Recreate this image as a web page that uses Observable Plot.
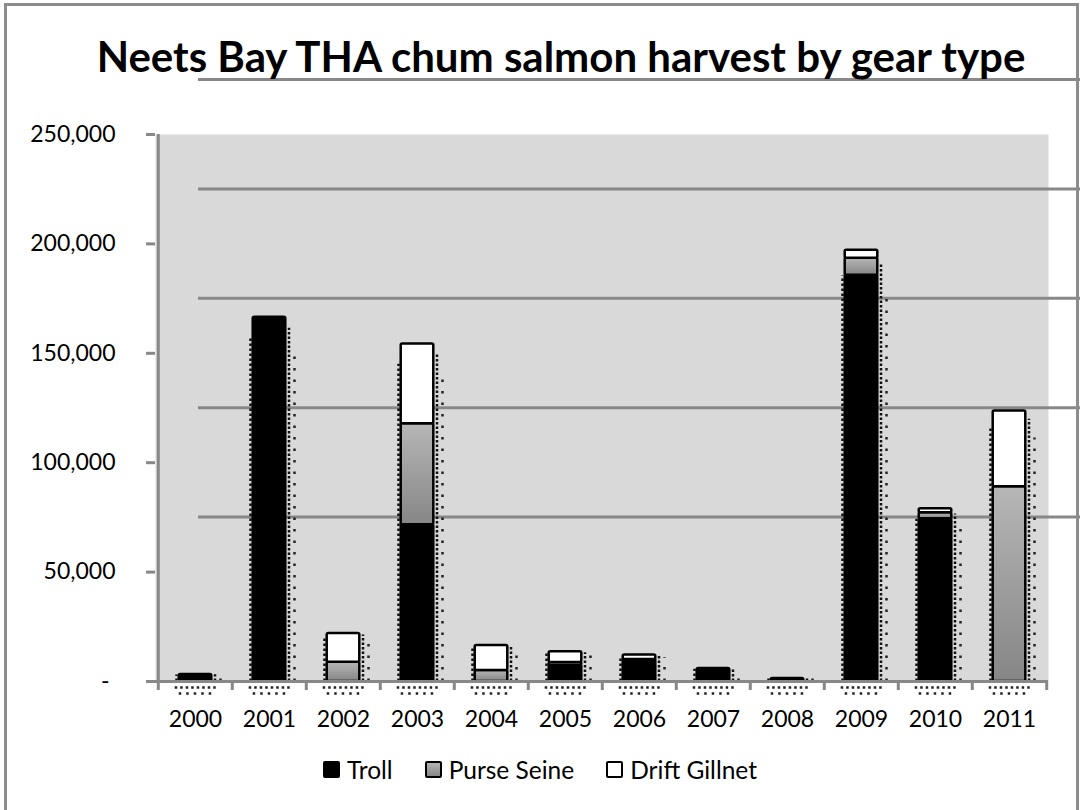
<!DOCTYPE html>
<html>
<head>
<meta charset="utf-8">
<script src="https://cdn.jsdelivr.net/npm/d3@7"></script>
<script src="https://cdn.jsdelivr.net/npm/@observablehq/plot@0.6"></script>
<style>
  html, body { margin: 0; padding: 0; background: #fff; overflow: hidden; }
  #chart { position: relative; width: 1080px; height: 810px; font-family: Lato, sans-serif; }
  #border { position: absolute; left: 4px; top: 3px; width: 1075px; height: 900px;
            border: 3px solid #8c8c8c; box-sizing: border-box; pointer-events: none; }
  #legend { position: absolute; left: 0; top: 755px; width: 1080px; display: flex;
            justify-content: center; align-items: center; gap: 32px; font-size: 24.5px; color: #000; }
  #legend .item { display: flex; align-items: center; gap: 7px; }
  #legend .sw { width: 17px; height: 17px; box-sizing: border-box; border-radius: 2px; border: 2.5px solid #000; }
</style>
</head>
<body>
<div id="chart">
  <div id="border"></div>
  <div id="legend"></div>
</div>
<script>
// Neets Bay THA chum salmon harvest, stacked by gear type
const titleText = "Neets Bay THA chum salmon harvest by gear type";
const years = ["2000","2001","2002","2003","2004","2005","2006","2007","2008","2009","2010","2011"];
const gears = ["Troll", "Purse Seine", "Drift Gillnet"];
const troll        = [3200, 166500,     0, 71600,     0, 7300, 9800, 5900, 1400, 185700, 74400,     0];
const purseSeine   = [   0,      0,  8800, 46200,  5000, 1400,  300,    0,    0,   7700,  2700, 89000];
const driftGillnet = [   0,      0, 13100, 36400, 11400, 4900, 2000,    0,    0,   3700,  1800, 34600];
const yTicks = [0, 50000, 100000, 150000, 200000, 250000];

const W = 1080, H = 810;
const mL = 155, mR = 32, mT = 134, mB = 129;
const step = (W - mL - mR) / years.length;
const barWidth = 33;
const inset = (step - barWidth) / 2;
const axisGray = "#888";
const labelSize = 23;

const series = [troll, purseSeine, driftGillnet];
const rows = years.flatMap((year, i) =>
  gears.map((gear, g) => ({year, gear, value: series[g][i]}))
).filter(d => d.value > 0);

const totals = years.map((year, i) => ({year, total: troll[i] + purseSeine[i] + driftGillnet[i]}));
const gridValues = yTicks.filter(v => v > 0);
const fmt = d3.format(",");

const chart = Plot.plot({
  width: W, height: H,
  marginLeft: mL, marginRight: mR, marginTop: mT, marginBottom: mB,
  style: {fontFamily: "Lato, sans-serif", fontSize: labelSize + "px", color: "#000", background: "transparent"},
  x: {domain: years, padding: 0},
  y: {domain: [0, 250000]},
  color: {domain: gears, range: ["#000", "url(#purse-seine-fill)", "#fff"]},
  marks: [
    Plot.frame({fill: "#d9d9d9"}),
    // shifted horizontal gridlines
    Plot.ruleY(gridValues, {stroke: axisGray, strokeWidth: 3, dx: 43, dy: -55}),
    // dotted shadow texture beside and under each bar
    Plot.ruleX(totals, {x: "year", y1: 0, y2: d => d.total * 0.94, dx: -(barWidth / 2 + 2.5),
      stroke: "#111", strokeWidth: 2.5, strokeDasharray: "2.5,2.5"}),
    Plot.ruleX(totals, {x: "year", y1: 0, y2: d => d.total * 0.97, dx: barWidth / 2 + 3,
      stroke: "#111", strokeWidth: 2.5, strokeDasharray: "2.5,2"}),
    Plot.ruleX(totals, {x: "year", y1: 0, y2: d => d.total * 0.9, dx: barWidth / 2 + 8.5,
      stroke: "#222", strokeWidth: 2.5, strokeDasharray: "2.5,9"}),
    Plot.tickY(totals, {x: "year", y: 0, dy: 6, insetLeft: inset - 4, insetRight: inset - 6,
      stroke: "#222", strokeWidth: 2.5, strokeDasharray: "2.5,3"}),
    Plot.tickY(totals, {x: "year", y: 0, dy: 12, insetLeft: inset, insetRight: inset - 2,
      stroke: "#222", strokeWidth: 2.5, strokeDasharray: "2.5,5"}),
    // stacked bars
    Plot.barY(rows, {x: "year", y: "value", fill: "gear", stroke: "#000", strokeWidth: 2.5,
      insetLeft: inset, insetRight: inset, rx: 1.5}),
    // axes
    Plot.ruleY([0], {stroke: axisGray, strokeWidth: 3}),
    Plot.ruleX([years[0]], {x: d => d, dx: -step / 2, insetBottom: -9, stroke: axisGray, strokeWidth: 3}),
    Plot.ruleX(years.slice(1), {x: d => d, y1: 0, y2: 0, insetTop: 9, dx: -step / 2, stroke: axisGray, strokeWidth: 3}),
    Plot.ruleX([years[years.length - 1]], {x: d => d, y1: 0, y2: 0, insetTop: 9, dx: step / 2, stroke: axisGray, strokeWidth: 3}),
    Plot.axisY({ticks: yTicks, tickSize: 9, tickPadding: 31, stroke: axisGray, strokeWidth: 3, fill: "#000",
      fontSize: labelSize, tickFormat: d => d === 0 ? "-\u00a0" : fmt(d), label: null}),
    Plot.axisX({tickSize: 0, tickPadding: 29, fill: "#000", fontSize: labelSize, label: null}),
    // title
    Plot.text([titleText], {frameAnchor: "top", dx: -41, dy: -76, fontSize: 42, fontWeight: 700,
      lineAnchor: "middle", fill: "#000"})
  ]
});

d3.select(chart).insert("defs", ":first-child").html(
  `<linearGradient id="purse-seine-fill" x1="0" y1="0" x2="0" y2="1">
     <stop offset="0" stop-color="#b6b6b6"/><stop offset="1" stop-color="#868686"/>
   </linearGradient>`);

document.getElementById("chart").insertBefore(chart, document.getElementById("border"));

// legend
const swatchFill = {
  "Troll": "#000",
  "Purse Seine": "linear-gradient(#b6b6b6, #868686)",
  "Drift Gillnet": "#fff"
};
const legend = d3.select("#legend");
gears.forEach(g => {
  const item = legend.append("div").attr("class", "item");
  item.append("div").attr("class", "sw").style("background", swatchFill[g]);
  item.append("span").text(g);
});
</script>
</body>
</html>
